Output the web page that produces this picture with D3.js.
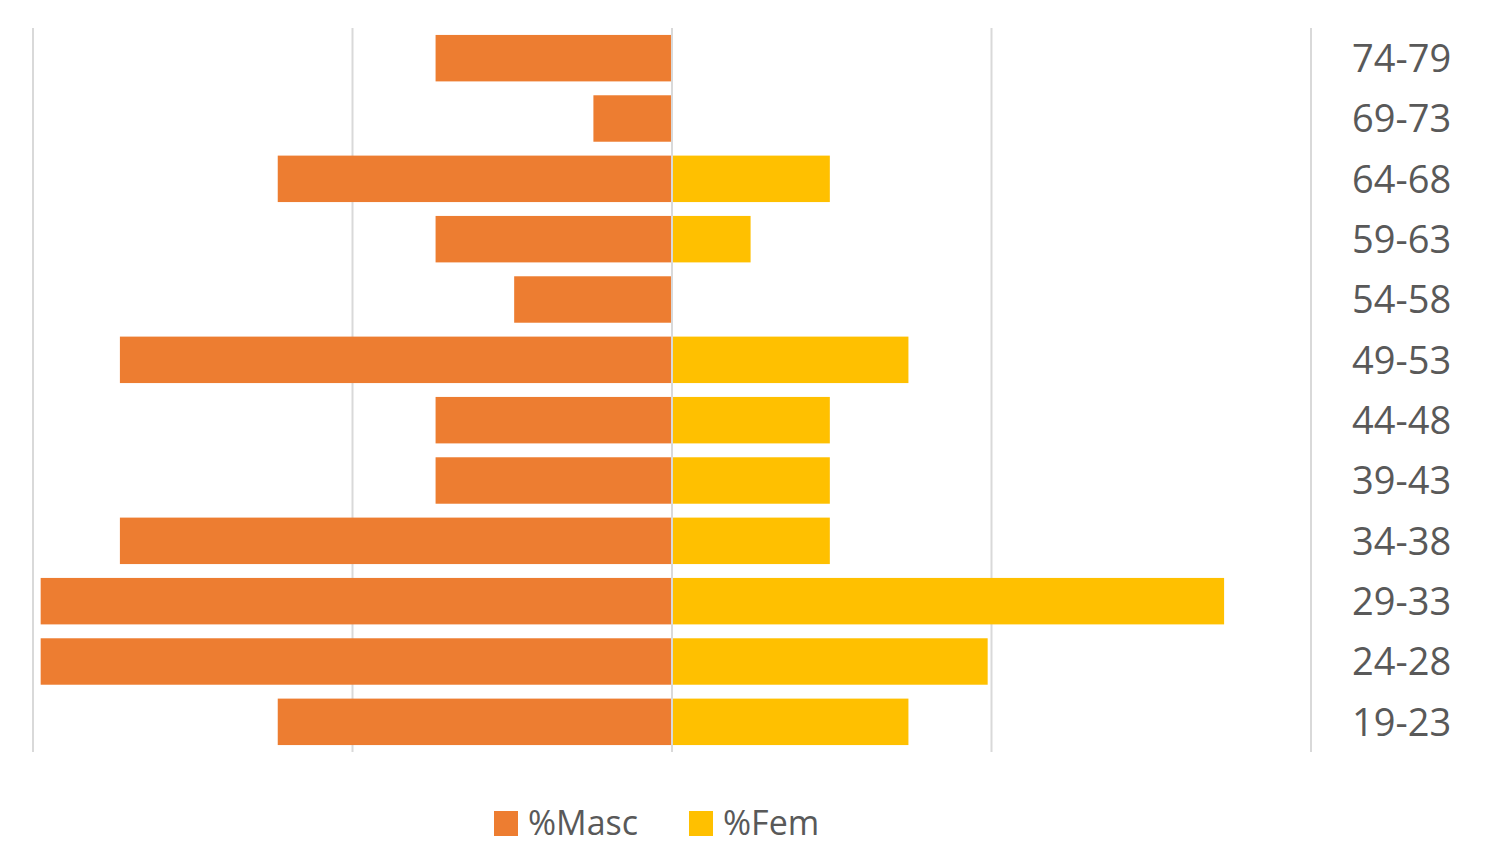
<!DOCTYPE html>
<html>
<head>
<meta charset="utf-8">
<script src="https://cdn.jsdelivr.net/npm/d3@7"></script>
<style>
  body { margin: 0; background: #fff; overflow: hidden; }
  text { font-family: "Open Sans", sans-serif; fill: #595959; }
</style>
</head>
<body>
<div id="chart"></div>
<script>
// age groups, top to bottom
var ageGroups = ["74-79", "69-73", "64-68", "59-63", "54-58", "49-53",
                 "44-48", "39-43", "34-38", "29-33", "24-28", "19-23"];
// % of total
var masc = [3.70, 1.23, 6.17, 3.70, 2.47, 8.64, 3.70, 3.70, 8.64, 9.88, 9.88, 6.17];
var fem  = [0, 0, 2.47, 1.23, 0, 3.70, 2.47, 2.47, 2.47, 8.64, 4.94, 3.70];
var gridTicks = [-10, -5, 0, 5, 10];
var seriesNames = ["%Masc", "%Fem"];

var width = 1490, height = 847;
var margin = {top: 28, right: 179, bottom: 95, left: 33};

var svg = d3.select("#chart").append("svg")
    .attr("width", width)
    .attr("height", height);

var x = d3.scaleLinear().domain([-10, 10]).range([margin.left, width - margin.right]);
var y = d3.scaleBand().domain(ageGroups).range([margin.top, height - margin.bottom]).paddingInner(0.23).paddingOuter(0.115);

var colors = {masc: "#ED7D31", fem: "#FFC000"};

// gridlines
svg.append("g").selectAll("line")
  .data(gridTicks)
  .enter().append("line")
    .attr("x1", function(d) { return x(d) })
    .attr("x2", function(d) { return x(d) })
    .attr("y1", margin.top)
    .attr("y2", height - margin.bottom)
    .attr("stroke", d3.color("#d9d9d9"))
    .attr("stroke-width", 2);

// masc bars go left
svg.append("g").selectAll("rect")
  .data(masc)
  .enter().append("rect")
    .attr("x", function(d) { return x(-d) })
    .attr("y", function(d, i) { return y(ageGroups[i]) })
    .attr("width", function(d) { return x(0) - x(-d) - 1 })
    .attr("height", y.bandwidth())
    .attr("fill", colors.masc);

// fem bars go right
svg.append("g").selectAll("rect")
  .data(fem)
  .enter().append("rect")
    .attr("x", x(0) + 1)
    .attr("y", function(d, i) { return y(ageGroups[i]) })
    .attr("width", function(d) { return Math.max(0, x(d) - x(0) - 1) })
    .attr("height", y.bandwidth())
    .attr("fill", colors.fem);

// category labels on the right
svg.append("g").selectAll("text")
  .data(ageGroups)
  .enter().append("text")
    .attr("x", 1352)
    .attr("y", function(d) { return y(d) + y.bandwidth() / 2 })
    .attr("dy", "0.36em")
    .style("font-size", "38px")
    .text(function(d) { return d });

// legend (kept just inside the bottom edge)
var legend = svg.append("g").attr("transform", "translate(494, 0)");
var legendItems = [
  {name: seriesNames[0], color: colors.masc, x: 0},
  {name: seriesNames[1], color: colors.fem, x: 195}
];
legendItems.forEach(function(it) {
  legend.append("rect")
    .attr("x", it.x)
    .attr("y", 811)
    .attr("width", 24)
    .attr("height", 25)
    .attr("fill", it.color);
  legend.append("text")
    .attr("x", it.x + 34)
    .attr("y", 823)
    .attr("dy", "0.35em")
    .style("font-size", "34px")
    .text(it.name);
});
</script>
</body>
</html>
